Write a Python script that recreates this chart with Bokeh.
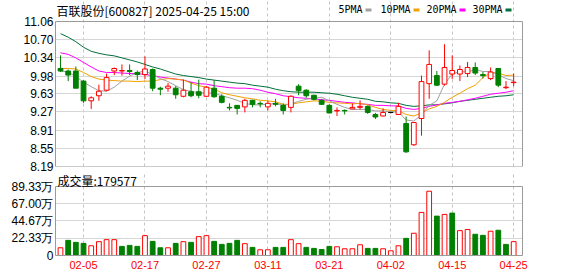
from bokeh.plotting import figure
from bokeh.models import (FixedTicker, Range1d, CustomJSTickFormatter, Label, Span,
                          BoxAnnotation, LinearAxis, NumeralTickFormatter, ColumnDataSource)
from bokeh.layouts import column
from bokeh.embed import file_html
from bokeh.resources import INLINE

# ---------------- data ----------------
dates = ["01-23", "01-24", "01-27", "02-05", "02-06", "02-07", "02-10", "02-11", "02-12", "02-13",
         "02-14", "02-17", "02-18", "02-19", "02-20", "02-21", "02-24", "02-25", "02-26", "02-27",
         "02-28", "03-03", "03-04", "03-05", "03-06", "03-07", "03-10", "03-11", "03-12", "03-13",
         "03-14", "03-17", "03-18", "03-19", "03-20", "03-21", "03-24", "03-25", "03-26", "03-27",
         "03-28", "03-31", "04-01", "04-02", "04-03", "04-07", "04-08", "04-09", "04-10", "04-11",
         "04-14", "04-15", "04-16", "04-17", "04-18", "04-21", "04-22", "04-23", "04-24", "04-25"]

opens = [10.13, 10.08, 10.08, 9.88, 9.49, 9.59, 9.70, 10.08, 10.08, 10.09,
         10.05, 10.01, 10.11, 9.74, 9.74, 9.74, 9.58, 9.67, 9.67, 9.58,
         9.74, 9.58, 9.36, 9.40, 9.37, 9.50, 9.44, 9.37, 9.44, 9.40,
         9.36, 9.78, 9.70, 9.60, 9.50, 9.40, 9.29, 9.30, 9.33, 9.36,
         9.38, 9.22, 9.19, 9.26, 9.22, 9.04, 8.62, 9.14, 9.83, 9.99,
         9.82, 10.02, 10.02, 10.03, 10.15, 10.01, 9.93, 10.13, 9.75, 9.85]
highs = [10.39, 10.11, 10.17, 9.90, 9.58, 9.81, 10.03, 10.15, 10.21, 10.21,
         10.09, 10.37, 10.13, 9.77, 9.84, 9.78, 9.91, 9.86, 9.91, 9.78,
         9.90, 9.62, 9.44, 9.40, 9.53, 9.51, 9.48, 9.49, 9.53, 9.44,
         9.60, 9.82, 9.72, 9.61, 9.53, 9.42, 9.36, 9.32, 9.44, 9.50,
         9.40, 9.25, 9.34, 9.27, 9.45, 9.18, 9.06, 9.99, 10.49, 10.08,
         10.61, 10.39, 10.19, 10.26, 10.25, 10.06, 10.15, 10.13, 9.88, 10.03]
lows = [10.06, 9.88, 9.74, 9.45, 9.33, 9.49, 9.68, 10.00, 9.99, 10.00,
        9.90, 9.92, 9.68, 9.60, 9.67, 9.53, 9.56, 9.56, 9.54, 9.57,
        9.55, 9.44, 9.30, 9.22, 9.26, 9.36, 9.36, 9.30, 9.38, 9.22,
        9.26, 9.60, 9.55, 9.50, 9.41, 9.24, 9.19, 9.22, 9.33, 9.32,
        9.23, 9.13, 9.18, 9.24, 9.21, 8.46, 8.60, 8.80, 9.53, 9.78,
        9.79, 9.92, 9.88, 9.96, 10.00, 9.93, 9.90, 9.76, 9.72, 9.78]
closes = [10.08, 10.00, 9.74, 9.49, 9.55, 9.68, 9.95, 10.13, 10.09, 10.07,
          10.01, 10.12, 9.74, 9.72, 9.78, 9.61, 9.70, 9.59, 9.60, 9.76,
          9.57, 9.46, 9.35, 9.34, 9.50, 9.42, 9.43, 9.44, 9.42, 9.30,
          9.58, 9.69, 9.59, 9.52, 9.42, 9.25, 9.30, 9.29, 9.36, 9.38,
          9.26, 9.17, 9.26, 9.26, 9.38, 8.48, 9.06, 9.87, 10.21, 9.80,
          10.15, 10.09, 10.11, 10.15, 10.04, 9.99, 10.06, 9.80, 9.76, 9.86]

# volume in 万 (10,000 lots); 1 = red (up day), 0 = green (down day)
volumes = [10.0, 19.6, 17.0, 15.7, 12.6, 17.9, 20.5, 20.5, 11.8, 13.1,
           11.8, 25.7, 18.3, 10.0, 10.0, 15.7, 17.9, 17.0, 24.4, 25.7,
           18.3, 14.4, 15.7, 19.6, 15.3, 10.5, 7.4, 7.4, 10.5, 10.5,
           20.5, 15.3, 10.5, 9.2, 7.8, 11.8, 11.3, 8.7, 8.7, 13.9,
           9.2, 9.2, 8.7, 6.1, 12.6, 22.2, 28.8, 55.8, 83.2, 51.0,
           53.2, 54.9, 32.2, 33.6, 27.5, 26.1, 31.4, 32.7, 14.4, 17.9577]
vol_up = [1, 0, 0, 0, 1, 1, 1, 1, 0, 0,
          0, 1, 0, 0, 1, 0, 1, 0, 1, 1,
          0, 0, 0, 0, 1, 0, 1, 1, 0, 0,
          1, 1, 0, 0, 0, 0, 1, 1, 1, 1,
          0, 0, 1, 1, 1, 0, 1, 1, 1, 0,
          1, 0, 1, 1, 0, 0, 1, 0, 0, 1]

ma5 = [10.08, 10.06, 9.97, 9.86, 9.77, 9.69, 9.68, 9.76, 9.88, 9.98,
       10.05, 10.08, 10.01, 9.93, 9.87, 9.79, 9.71, 9.68, 9.65, 9.65,
       9.64, 9.59, 9.55, 9.50, 9.44, 9.41, 9.41, 9.42, 9.44, 9.40,
       9.43, 9.48, 9.52, 9.54, 9.56, 9.49, 9.42, 9.36, 9.32, 9.32,
       9.32, 9.29, 9.29, 9.27, 9.27, 9.11, 9.09, 9.21, 9.40, 9.49,
       9.82, 10.02, 10.07, 10.06, 10.11, 10.07, 10.07, 10.01, 9.93, 9.89]
ma10 = [10.13, 10.13, 10.12, 10.05, 9.97, 9.92, 9.90, 9.89, 9.88, 9.88,
        9.87, 9.88, 9.88, 9.91, 9.93, 9.92, 9.90, 9.84, 9.79, 9.76,
        9.72, 9.65, 9.61, 9.58, 9.55, 9.53, 9.50, 9.49, 9.47, 9.42,
        9.42, 9.45, 9.47, 9.49, 9.48, 9.46, 9.45, 9.44, 9.43, 9.44,
        9.41, 9.36, 9.32, 9.30, 9.29, 9.22, 9.19, 9.25, 9.33, 9.38,
        9.46, 9.56, 9.64, 9.73, 9.80, 9.95, 10.05, 10.04, 9.99, 10.00]
ma20 = [10.44, 10.41, 10.34, 10.25, 10.16, 10.08, 10.05, 10.05, 10.04, 10.03,
        10.03, 10.01, 9.99, 9.96, 9.94, 9.92, 9.90, 9.86, 9.83, 9.82,
        9.79, 9.77, 9.75, 9.74, 9.74, 9.73, 9.70, 9.66, 9.63, 9.59,
        9.57, 9.55, 9.54, 9.53, 9.51, 9.50, 9.48, 9.46, 9.45, 9.43,
        9.42, 9.40, 9.40, 9.39, 9.39, 9.34, 9.32, 9.34, 9.38, 9.41,
        9.44, 9.46, 9.48, 9.51, 9.54, 9.58, 9.62, 9.64, 9.66, 9.69]
ma30 = [10.82, 10.75, 10.66, 10.55, 10.47, 10.43, 10.40, 10.38, 10.34, 10.30,
        10.26, 10.21, 10.16, 10.12, 10.07, 10.02, 9.99, 9.97, 9.95, 9.92,
        9.90, 9.88, 9.86, 9.84, 9.83, 9.80, 9.78, 9.76, 9.72, 9.69,
        9.67, 9.66, 9.66, 9.66, 9.65, 9.64, 9.62, 9.59, 9.56, 9.54,
        9.52, 9.48, 9.47, 9.45, 9.44, 9.40, 9.38, 9.39, 9.41, 9.41,
        9.43, 9.45, 9.48, 9.50, 9.52, 9.54, 9.56, 9.58, 9.59, 9.61]

price_ticks = [8.19, 8.55, 8.91, 9.27, 9.63, 9.98, 10.34, 10.70, 11.06]
vol_ticks = [0, 22.33, 44.67, 67.00, 89.33]
x_tick_labels = ["02-05", "02-17", "02-27", "03-11", "03-21", "04-02", "04-15", "04-25"]
title_text = "百联股份[600827] 2025-04-25 15:00"
vol_title = "成交量:179577"
ma_names = ["5PMA", "10PMA", "20PMA", "30PMA"]

# ---------------- styling ----------------
RED = "#ff0000"
GREEN = "#008000"
MA_COLORS = ["#a0a0a0", "#f0a000", "#ff00ff", "#006f3a"]
GRID = "#d6d6d6"
VGRID = "#c4c4c4"
BORDER = "#9a9a9a"
CJK = "Noto Sans CJK SC"

P_LO, P_HI = price_ticks[0], price_ticks[-1]
V_LO, V_HI = vol_ticks[0], vol_ticks[-1]
P_FRAME_PX, P_HEAD_PX = 145, 21      # price box height, header band above it
V_FRAME_PX, V_HEAD_PX = 69, 13       # volume box height, header band above it

idx = list(range(len(dates)))
tick_idx = [dates.index(d) for d in x_tick_labels]


def ccolor(o, c):
    if c > o:
        return RED
    if c < o:
        return GREEN
    return "#000000"


cols = [ccolor(o, c) for o, c in zip(opens, closes)]
fills = ["#ffffff" if c > o else col for o, c, col in zip(opens, closes, cols)]
src = ColumnDataSource(dict(
    x=idx, o=opens, h=highs, l=lows, c=closes,
    top=[max(o, c) for o, c in zip(opens, closes)],
    bot=[min(o, c) for o, c in zip(opens, closes)],
    col=cols, fill=fills,
    vol=volumes,
    vcol=[RED if u else GREEN for u in vol_up],
    vfill=["#ffffff" if u else GREEN for u in vol_up],
    ma5=ma5, ma10=ma10, ma20=ma20, ma30=ma30,
))

xr = Range1d(-0.65, 60.15)


def style_panel(p, lo, hi, ticks, formatter):
    p.title.visible = False
    p.outline_line_color = None
    p.background_fill_color = "#ffffff"
    p.border_fill_color = "#ffffff"
    ax = p.yaxis[0]
    ax.ticker = FixedTicker(ticks=ticks)
    ax.formatter = formatter
    ax.bounds = (lo, hi)
    ax.axis_line_color = BORDER
    ax.major_tick_line_color = None
    ax.minor_tick_line_color = None
    ax.major_tick_out = 0
    ax.major_tick_in = 0
    ax.major_label_standoff = 2
    ax.major_label_text_font = "Liberation Sans"
    ax.major_label_text_font_size = "12px"
    ax.major_label_text_color = "#000000"
    rax = LinearAxis(ticker=FixedTicker(ticks=[]), bounds=(lo, hi), axis_line_color=BORDER,
                     major_tick_line_color=None, minor_tick_line_color=None,
                     major_tick_out=0, major_tick_in=0, major_label_text_font_size="0px")
    p.add_layout(rax, "right")
    p.add_layout(Span(location=hi, dimension="width", line_color=BORDER, line_width=1))
    p.ygrid.ticker = FixedTicker(ticks=ticks)
    p.ygrid.grid_line_color = GRID
    p.xgrid.ticker = FixedTicker(ticks=tick_idx)
    p.xgrid.grid_line_color = VGRID
    p.xgrid.grid_line_dash = "3 3"
    p.xgrid.bounds = (lo, hi)


# ---------------- price panel ----------------
p_top = P_HI + P_HEAD_PX * (P_HI - P_LO) / P_FRAME_PX
p1 = figure(width=578, height=173, x_range=xr, y_range=Range1d(P_LO, p_top),
            output_backend="svg", toolbar_location=None,
            min_border_left=55, min_border_right=56, min_border_top=0, min_border_bottom=7)
p1.xaxis.visible = False
style_panel(p1, P_LO, P_HI, price_ticks, NumeralTickFormatter(format="0.00"))
p1.add_layout(Span(location=P_LO, dimension="width", line_color=BORDER, line_width=1))

for name, colr in zip(["ma30", "ma20", "ma10", "ma5"], MA_COLORS[::-1]):
    p1.line("x", name, source=src, line_color=colr, line_width=1)

p1.segment(x0="x", y0="l", x1="x", y1="h", source=src, line_color="col", line_width=1)
p1.vbar(x="x", width=0.62, top="top", bottom="bot", source=src,
        fill_color="fill", line_color="col", line_width=1)

# header band: title and MA legend (screen px measured up from the frame bottom)
head_y = P_FRAME_PX + P_HEAD_PX
p1.add_layout(Label(x=1, y=head_y - 10, x_units="screen", y_units="screen", text=title_text,
                    text_font=CJK, text_font_size="12px", text_baseline="middle",
                    text_color="#000000"))
legend_x = [283, 325, 371, 417]
swatch_x = [310, 358, 404, 450]
for name, colr, lx, sx in zip(ma_names, MA_COLORS, legend_x, swatch_x):
    p1.add_layout(Label(x=lx, y=head_y - 8.5, x_units="screen", y_units="screen", text=name,
                        text_font="DejaVu Sans Mono", text_font_size="10px",
                        text_baseline="middle", text_color="#000000"))
    p1.add_layout(BoxAnnotation(left=sx, right=sx + 6, bottom=head_y - 11, top=head_y - 8,
                                left_units="screen", right_units="screen",
                                bottom_units="screen", top_units="screen",
                                fill_color=colr, fill_alpha=1, line_color=None))

# ---------------- volume panel ----------------
v_top = V_HI + V_HEAD_PX * (V_HI - V_LO) / V_FRAME_PX
p2 = figure(width=578, height=103, x_range=xr, y_range=Range1d(V_LO, v_top),
            output_backend="svg", toolbar_location=None,
            min_border_left=55, min_border_right=56, min_border_top=0, min_border_bottom=21)
style_panel(p2, V_LO, V_HI, vol_ticks,
            CustomJSTickFormatter(code="return tick == 0 ? '0' : tick.toFixed(2) + '万';"))

p2.xaxis.ticker = FixedTicker(ticks=tick_idx)
p2.xaxis.major_label_overrides = {i: dates[i] for i in tick_idx}
p2.xaxis.axis_line_color = BORDER
p2.xaxis.major_tick_line_color = None
p2.xaxis.minor_tick_line_color = None
p2.xaxis.major_tick_out = 0
p2.xaxis.major_tick_in = 0
p2.xaxis.major_label_standoff = 5
p2.xaxis.major_label_text_font = "Liberation Sans"
p2.xaxis.major_label_text_font_size = "11px"
p2.xaxis.major_label_text_color = RED

p2.vbar(x="x", width=0.62, top="vol", bottom=0, source=src,
        fill_color="vfill", line_color="vcol", line_width=1)

p2.add_layout(Label(x=2, y=V_FRAME_PX + V_HEAD_PX - 6.5, x_units="screen", y_units="screen",
                    text=vol_title, text_font=CJK, text_font_size="12px",
                    text_baseline="middle", text_color="#000000"))

layout = column(p1, p2, spacing=0)
open("out.html", "w").write(file_html(layout, INLINE))
